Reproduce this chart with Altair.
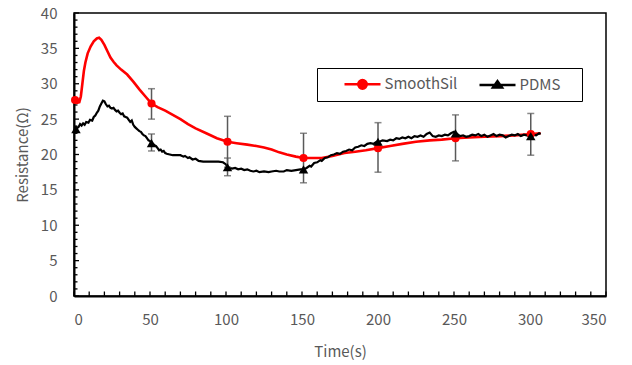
import altair as alt
import pandas as pd

# ---------------- data ----------------
series_names = ["SmoothSil", "PDMS"]
series_colors = ["#FF0000", "#000000"]

red_t = [0, 2, 3.5, 4.5, 5.5, 6.5, 7.5, 9, 11, 13, 15, 16.5, 18, 20, 22, 24, 26, 28, 31, 35,
         39, 43, 47, 51, 55, 60, 65, 70, 75, 80, 87, 94, 101, 107, 114, 120, 125, 130, 135,
         140, 146, 151, 157, 163, 170, 178, 185, 192, 200, 208, 216, 225, 234, 242, 251,
         260, 270, 280, 290, 301, 307]
red_v = [27.7, 27.3, 27.4, 28.2, 30.0, 31.8, 33.0, 34.3, 35.3, 36.0, 36.4, 36.5, 36.2, 35.5,
         34.6, 33.7, 33.1, 32.6, 32.0, 31.3, 30.3, 29.2, 28.2, 27.2, 26.7, 26.2, 25.6, 25.0,
         24.3, 23.7, 23.0, 22.3, 21.8, 21.6, 21.4, 21.2, 21.0, 20.7, 20.3, 20.0, 19.7, 19.5,
         19.5, 19.5, 19.8, 20.2, 20.4, 20.6, 20.9, 21.2, 21.5, 21.8, 22.0, 22.1, 22.3, 22.4,
         22.5, 22.6, 22.7, 22.9, 23.0]

pdms_t = [1, 3, 4, 5, 6, 7, 8, 9.5, 10.5, 12, 13, 14, 15, 16, 17, 18, 19, 20, 21, 22, 23, 24,
          25, 26, 27, 28, 29, 30, 31, 32, 33, 34, 35, 36, 37, 38, 39, 40, 41, 42, 43, 44, 45,
          46, 47, 48, 49, 50, 51, 52, 53, 54, 55, 56, 57, 58, 59, 60, 61, 63, 65, 68, 70, 72,
          73, 75, 76, 78, 80, 82, 85, 90, 95, 98, 100, 101, 104, 106, 108, 110, 112, 114, 116,
          118, 120, 122, 125, 128, 130, 133, 135, 138, 140, 143, 146, 149, 151, 153, 155, 156,
          158, 160, 162, 163, 165, 167, 169, 171, 173, 175, 177, 179, 181, 183, 185, 187, 189,
          191, 193, 195, 197, 199, 201, 203, 206, 208, 210, 212, 214, 216, 218, 220, 222, 224,
          226, 228, 230, 232, 234, 236, 238, 240, 242, 244, 246, 248, 250, 252, 254, 256, 258,
          260, 262, 264, 266, 268, 270, 272, 274, 276, 278, 280, 282, 284, 286, 288, 290, 292,
          294, 296, 298, 300, 302, 304, 306, 307]
pdms_v = [23.6, 23.9, 24.3, 24.1, 24.4, 24.2, 24.6, 24.5, 24.9, 24.8, 25.3, 25.5, 25.9, 26.2,
          26.8, 27.2, 27.6, 27.5, 27.1, 26.8, 26.9, 26.6, 26.5, 26.6, 26.3, 26.1, 26.2, 25.9,
          25.7, 25.8, 25.4, 25.3, 25.2, 24.9, 24.6, 24.8, 24.2, 23.9, 23.7, 23.5, 23.3, 23.2,
          22.9, 22.7, 22.6, 22.3, 22.0, 21.9, 21.6, 21.5, 21.3, 21.2, 20.9, 20.6, 20.7, 20.4,
          20.5, 20.2, 20.1, 20.0, 19.9, 19.9, 19.9, 19.7, 19.8, 19.5, 19.6, 19.3, 19.4, 19.1,
          19.0, 19.0, 19.0, 18.9, 18.6, 18.2, 18.0, 18.1, 17.9, 18.0, 17.8, 17.9, 17.7, 17.6,
          17.7, 17.5, 17.6, 17.5, 17.6, 17.7, 17.6, 17.6, 17.8, 17.7, 17.8, 17.9, 17.9, 18.1,
          18.4, 18.3, 18.8, 18.9, 19.2, 19.1, 19.5, 19.6, 19.9, 20.0, 20.2, 20.1, 20.4, 20.5,
          20.7, 20.6, 21.0, 21.1, 21.3, 21.2, 21.5, 21.6, 21.5, 21.8, 21.8, 22.0, 21.9, 22.1,
          22.0, 22.3, 22.2, 22.4, 22.3, 22.5, 22.3, 22.6, 22.5, 22.7, 22.5, 22.9, 23.1, 22.6,
          22.5, 22.7, 22.6, 22.8, 22.7, 23.0, 23.2, 22.9, 22.6, 22.7, 22.5, 22.6, 22.8, 22.7,
          22.9, 22.6, 22.8, 22.5, 22.7, 22.9, 22.6, 22.8, 22.7, 22.4, 22.6, 22.8, 22.7, 22.9,
          22.6, 22.8, 22.7, 22.6, 22.8, 22.7, 23.0, 22.9]

red_mark_t = [0.7, 51, 101, 151, 200, 251, 300.5]
red_mark_v = [27.7, 27.2, 21.8, 19.5, 20.9, 22.3, 22.9]
pdms_mark_t = [1.3, 51, 101, 151, 200, 251, 300.5]
pdms_mark_v = [23.6, 21.6, 18.2, 17.9, 21.8, 23.0, 22.6]

red_err_t = [51, 101, 151, 200, 251, 300.5]
red_err_lo = [25.0, 18.2, 16.0, 17.5, 19.1, 19.9]
red_err_hi = [29.3, 25.4, 23.0, 24.5, 25.6, 25.8]
pdms_err_t = [51, 101]
pdms_err_lo = [20.5, 17.0]
pdms_err_hi = [22.9, 19.5]

x_labels = [0, 50, 100, 150, 200, 250, 300, 350]
y_labels = [0, 5, 10, 15, 20, 25, 30, 35, 40]
x_minor = list(range(0, 351, 10))
y_minor = [v for v in range(0, 41) if v % 5 != 0]

# ---------------- style ----------------
FONT = "Noto Sans CJK KR"
GRAY = "#595959"
W, H = 532, 283

red_line_df = pd.DataFrame({"t": red_t, "v": red_v})
pdms_line_df = pd.DataFrame({"t": pdms_t, "v": pdms_v})
red_pts = pd.DataFrame({"t": red_mark_t, "v": red_mark_v})
pdms_pts = pd.DataFrame({"t": pdms_mark_t, "v": pdms_mark_v})
legend_df = pd.DataFrame({"t": [red_mark_t[0], pdms_mark_t[0]],
                          "v": [red_mark_v[0], pdms_mark_v[0]],
                          "series": series_names})
err_df = pd.concat([
    pd.DataFrame({"t": red_err_t, "lo": red_err_lo, "hi": red_err_hi}),
    pd.DataFrame({"t": pdms_err_t, "lo": pdms_err_lo, "hi": pdms_err_hi}),
])
xt_df = pd.DataFrame({"t": x_minor})
yt_minor_df = pd.DataFrame({"v": y_minor})
yt_major_df = pd.DataFrame({"v": y_labels})

x_scale = alt.Scale(domain=[0, 350], nice=False, zero=False)
y_scale = alt.Scale(domain=[0, 40], nice=False, zero=False)

x_axis = alt.Axis(values=x_labels, title="Time(s)", grid=False, ticks=False, tickSize=0,
                  labelPadding=16, titlePadding=17, domainColor="black", domainWidth=2,
                  labelFont=FONT, labelFontSize=15, labelColor=GRAY,
                  titleFont=FONT, titleFontSize=15, titleColor=GRAY, titleFontWeight="normal")
y_axis = alt.Axis(values=y_labels, title="Resistance(Ω)", grid=False, ticks=False, tickSize=0,
                  labelPadding=17, titlePadding=10, domainColor="black", domainWidth=2,
                  labelFont=FONT, labelFontSize=15, labelColor=GRAY,
                  titleFont=FONT, titleFontSize=15, titleColor=GRAY, titleFontWeight="normal")


def X(field="t"):
    return alt.X(f"{field}:Q", scale=x_scale, axis=x_axis)


def Y(field="v"):
    return alt.Y(f"{field}:Q", scale=y_scale, axis=y_axis)


# legend symbols: a line segment with the marker in its middle (unit = 7.5 px)
circle_path = "M-2.4,0L2.4,0M0.57,0A0.57,0.57,0,1,1,-0.57,0A0.57,0.57,0,1,1,0.57,0Z"
tri_path = "M-2.4,0L2.4,0M0,-0.5L0.6,0.33L-0.6,0.33Z"
FILL = "\u3164"  # blank filler glyph, keeps right-hand room inside the legend frame

legend = alt.Legend(
    title=None, orient="none", legendX=243, legendY=55, direction="horizontal",
    strokeColor="black", fillColor="white", padding=7,
    symbolSize=225, symbolStrokeWidth=2.5, symbolOpacity=1,
    symbolOffset=29.5, labelOffset=13, columnPadding=1,
    labelFont=FONT, labelFontSize=15, labelColor=GRAY,
    labelExpr="datum.label == 'PDMS' ? 'PDMS" + FILL + "' : datum.label",
)
sc_color = alt.Scale(domain=series_names, range=series_colors)
sc_shape = alt.Scale(domain=series_names, range=[circle_path, tri_path])

x_ticks = alt.Chart(xt_df).mark_rule(color="black", strokeWidth=1.3).encode(
    x=X(), y=alt.value(H), y2=alt.value(H - 4.5))
y_ticks_minor = alt.Chart(yt_minor_df).mark_rule(color="black", strokeWidth=1.3).encode(
    y=Y(), x=alt.value(0), x2=alt.value(3.5))
y_ticks_major = alt.Chart(yt_major_df).mark_rule(color="black", strokeWidth=1.3).encode(
    y=Y(), x=alt.value(0), x2=alt.value(5))

red_line = alt.Chart(red_line_df).mark_line(strokeWidth=2.6, color="#FF0000").encode(
    x=X(), y=Y(), order="t:Q")
pdms_line = alt.Chart(pdms_line_df).mark_line(strokeWidth=2.2, color="#000000").encode(
    x=X(), y=Y(), order="t:Q")

err_rule = alt.Chart(err_df).mark_rule(color=GRAY, strokeWidth=1.5).encode(
    x=X(), y=Y("lo"), y2="hi:Q")
err_lo = alt.Chart(err_df).mark_tick(color=GRAY, thickness=1.5, size=7, orient="horizontal").encode(
    x=X(), y=Y("lo"))
err_hi = alt.Chart(err_df).mark_tick(color=GRAY, thickness=1.5, size=7, orient="horizontal").encode(
    x=X(), y=Y("hi"))

red_mark = alt.Chart(red_pts).mark_point(shape="circle", filled=True, size=66, opacity=1,
                                         color="#FF0000").encode(x=X(), y=Y())
pdms_mark = alt.Chart(pdms_pts).mark_point(shape="triangle-up", filled=True, size=90, opacity=1,
                                           color="#000000").encode(x=X(), y=Y())

# legend carrier (invisible marks; legend shows line + marker symbols)
legend_layer = alt.Chart(legend_df).mark_point(filled=True, opacity=0, size=1).encode(
    x=X(), y=Y(),
    color=alt.Color("series:N", scale=sc_color, legend=legend),
    stroke=alt.Stroke("series:N", scale=sc_color, legend=legend),
    shape=alt.Shape("series:N", scale=sc_shape, legend=legend),
)

chart = alt.layer(
    x_ticks, y_ticks_minor, y_ticks_major, red_line, pdms_line, err_rule, err_lo, err_hi,
    red_mark, pdms_mark, legend_layer
).properties(
    width=W, height=H, background="white",
    autosize=alt.AutoSizeParams(type="none"),
    padding={"left": 74, "top": 13, "right": 632 - 74 - W, "bottom": 365 - 13 - H},
).configure_view(
    stroke="black", strokeWidth=1.5
)

chart.save("out.html", embed_options={"renderer": "svg", "actions": False})
